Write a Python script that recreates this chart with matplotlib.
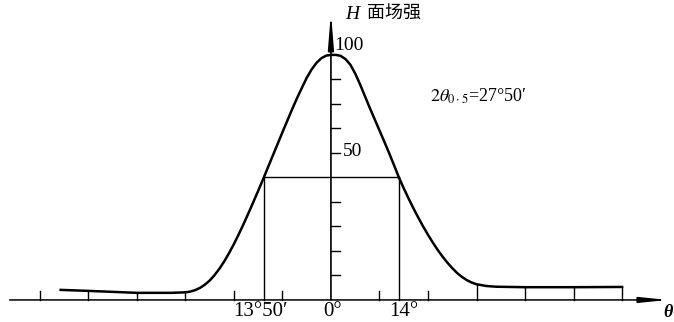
import matplotlib.pyplot as plt

plt.rcParams['font.family'] = ['Liberation Serif', 'Noto Sans CJK SC', 'DejaVu Sans']
plt.rcParams['mathtext.fontset'] = 'stix'

# pattern: angle (deg) vs relative field strength
theta = [-55.7, -50, -40, -33, -30, -29, -28, -27, -26, -25, -24, -23, -22, -21,
         -20, -19, -18, -17, -16, -15, -13.83, -13, -12, -11, -10, -9, -8, -7,
         -6, -5, -4, -3, -2, -1, 0, 1, 2, 3, 4, 5, 6, 7, 8, 9, 10, 11, 12, 13,
         14, 15, 16, 17, 18, 19, 20, 21, 22, 23, 24, 25, 26, 27, 28, 29, 30,
         32, 34, 40, 50, 60]
field = [4.1, 3.7, 2.9, 2.9, 3.1, 3.4, 4.0, 4.9, 6.2, 7.9, 10.1, 12.7, 15.7, 19.1,
         22.8, 26.8, 31.0, 35.4, 39.9, 44.5, 50, 54.0, 58.8, 63.6, 68.4, 73.1, 77.8, 82.3,
         86.5, 90.6, 94.0, 96.7, 98.6, 99.7, 100, 100, 99.6, 98.3, 96.0, 92.4, 88.0, 83.2,
         78.4, 73.8, 69.2, 64.6, 59.9, 55.0, 50, 45.6, 41.4, 37.4, 33.6, 30.0, 26.6,
         23.4, 20.4, 17.7, 15.2, 13.0, 11.0, 9.4, 8.1, 7.1, 6.4, 5.7, 5.4, 5.2, 5.2, 5.3]

half_left = -13.83
half_right = 14
half_level = 50
short_xticks = [-60, -20, -10, 10, 20]
tail_xticks = [-50, -40, -30, 30, 40, 50, 60]
yticks = [10, 20, 30, 40, 60, 70, 80, 90]

fig = plt.figure(figsize=(6.74, 3.22), dpi=100)
ax = fig.add_axes([0, 0, 1, 1])
ax.set_xlim(-68.2, 70.7)
ax.set_ylim(-9.0, 122.4)
ax.axis('off')

ax.plot(theta, field, color='black', lw=1.8, solid_joinstyle='round')

# half power box
ax.plot([half_left, half_right], [half_level, half_level], color='black', lw=1.0)
ax.plot([half_left, half_left], [0, half_level], color='black', lw=1.0)
ax.plot([half_right, half_right], [0, half_level], color='black', lw=1.0)

# axes with arrows
ax.annotate('', xy=(69.5, 0), xytext=(-66.2, 0),
            arrowprops=dict(arrowstyle='-|>,head_length=1.2,head_width=0.12',
                            lw=1.1, color='black', mutation_scale=14, shrinkA=0, shrinkB=0))
ax.annotate('', xy=(0, 117.5), xytext=(0, 0),
            arrowprops=dict(arrowstyle='-|>,head_length=1.5,head_width=0.12',
                            lw=1.2, color='black', mutation_scale=14, shrinkA=0, shrinkB=0))

for t in short_xticks:
    ax.plot([t, t], [0, 3.6], color='black', lw=1.0)
for t in tail_xticks:
    ax.plot([t, t], [0, field[theta.index(t)]], color='black', lw=1.0)
for v in yticks:
    ax.plot([0, 1.9], [v, v], color='black', lw=1.0)

ax.text(0.7, 104, '100', ha='left', va='center', fontsize=14)
ax.text(2.4, 60.5, '50', ha='left', va='center', fontsize=14)
ax.text(2.9, 116.5, 'H', ha='left', va='center', fontsize=14, style='italic')
ax.text(7.4, 116.5, '面场强', ha='left', va='center', fontsize=13)
ax.text(20.4, 83, r'$2\theta_{0\cdot5}$=27°50′', ha='left', va='center', fontsize=13)

ax.text(-14.6, -4.8, '13°50′', ha='center', va='center', fontsize=15)
ax.text(0.3, -4.8, '0°', ha='center', va='center', fontsize=15)
ax.text(15, -4.8, '14°', ha='center', va='center', fontsize=15)
ax.text(69.4, -5.3, 'θ', ha='center', va='center', fontsize=13,
        style='italic', fontweight='bold')

fig.savefig('out.png', dpi=100)
